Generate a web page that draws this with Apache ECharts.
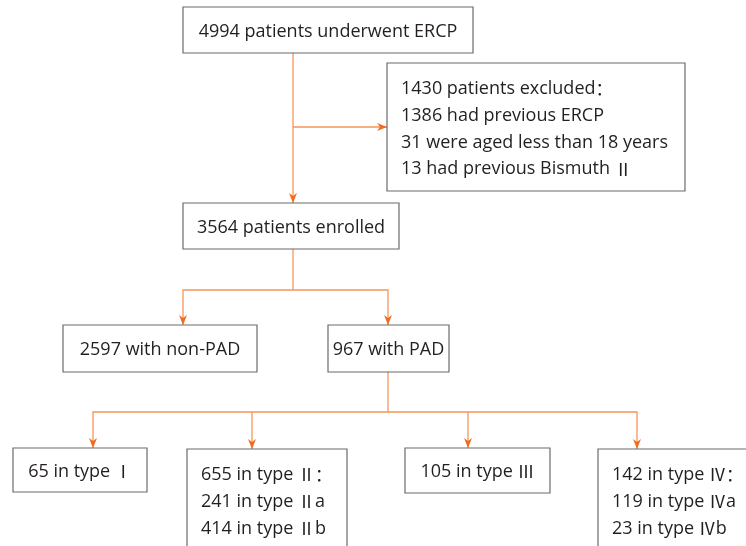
<!DOCTYPE html>
<html>
<head>
<meta charset="utf-8">
<script src="https://cdn.jsdelivr.net/npm/echarts@6/dist/echarts.min.js"></script>
<style>
  html, body { margin: 0; padding: 0; background: #fff; }
  #chart { width: 746px; height: 546px; }
</style>
</head>
<body>
<div id="chart"></div>
<script>
// box texts (one array of lines per box)
const boxText = [
  ['4994 patients underwent ERCP'],
  ['1430 patients excluded：', '1386 had previous ERCP', '31 were aged less than 18 years', '13 had previous Bismuth Ⅱ'],
  ['3564 patients enrolled'],
  ['2597 with non-PAD'],
  ['967 with PAD'],
  ['65 in type Ⅰ'],
  ['655 in type Ⅱ：', '241 in type Ⅱa', '414 in type Ⅱb'],
  ['105 in type Ⅲ'],
  ['142 in type Ⅳ：', '119 in type Ⅳa', '23 in type Ⅳb']
]

// layout: [x0, y0, x1, y1] per box, in page pixels
const boxLayout = [
  [183, 7, 473, 53],
  [387, 63, 685, 191],
  [183, 203, 399, 249],
  [63, 325, 257, 372],
  [328, 325, 449, 372],
  [13, 448, 147, 492],
  [187, 449, 347, 560],
  [405, 448, 550, 493],
  [598, 449, 760, 560]
]

// connectors: points, arrowhead at the end (and at the start when both)
const edgeLayout = [
  { pts: [[293, 53], [293, 203]], arrow: true },
  { pts: [[293, 127], [387, 127]], arrow: true },
  { pts: [[293, 249], [293, 290]], arrow: false },
  { pts: [[183, 325], [183, 290], [388, 290], [388, 325]], arrow: true, both: true },
  { pts: [[388, 372], [388, 412]], arrow: false },
  { pts: [[93, 448], [93, 412], [637, 412], [637, 449]], arrow: true, both: true },
  { pts: [[252, 412], [252, 449]], arrow: true },
  { pts: [[468, 412], [468, 448]], arrow: true }
]

const FONT_SIZE = 18
const FONT_FAMILY = '"Open Sans", "Noto Sans CJK SC", sans-serif'
const CJK_FAMILY = '"Noto Sans CJK SC", sans-serif'
const LINE_H = 26.7
const TEXT_COLOR = '#231f20'
const LINE_COLOR = '#f7955a'
const ARROW_COLOR = '#f26b1d'

// wrap roman numerals and full-width colons so they use the CJK font
function richLine (s) {
  return s.replace(/([\u2160-\u216f\uff1a]+)/g, '{r|$1}')
}

function arrowHead (tip, from) {
  const dx = tip[0] - from[0]
  const dy = tip[1] - from[1]
  const len = Math.sqrt(dx * dx + dy * dy) || 1
  const ux = dx / len
  const uy = dy / len
  const px = -uy
  const py = ux
  const L = 10
  const W = 4
  const N = 7
  return {
    type: 'polygon',
    shape: {
      points: [
        tip,
        [tip[0] - ux * L + px * W, tip[1] - uy * L + py * W],
        [tip[0] - ux * N, tip[1] - uy * N],
        [tip[0] - ux * L - px * W, tip[1] - uy * L - py * W]
      ]
    },
    style: { fill: ARROW_COLOR }
  }
}

const chart = echarts.init(document.getElementById('chart'), null, { renderer: 'canvas' })

const option = {
  animation: false,
  grid: { left: 0, right: 0, top: 0, bottom: 0 },
  xAxis: { type: 'value', min: 0, max: 746, show: false },
  yAxis: { type: 'value', min: 0, max: 546, inverse: true, show: false },
  series: [
    {
      type: 'custom',
      clip: false,
      data: edgeLayout.map((e, i) => [i]),
      renderItem: function (params, api) {
        const e = edgeLayout[params.dataIndex]
        const pts = e.pts.map(p => api.coord(p))
        const children = [{
          type: 'polyline',
          shape: { points: pts },
          style: { stroke: LINE_COLOR, lineWidth: 1.3, fill: null }
        }]
        if (e.arrow) {
          const n = pts.length
          children.push(arrowHead(pts[n - 1], pts[n - 2]))
          if (e.both) children.push(arrowHead(pts[0], pts[1]))
        }
        return { type: 'group', children: children }
      }
    },
    {
      type: 'custom',
      clip: false,
      data: boxLayout.map((b, i) => [i]),
      renderItem: function (params, api) {
        const i = params.dataIndex
        const b = boxLayout[i]
        const p0 = api.coord([b[0], b[1]])
        const p1 = api.coord([b[2], b[3]])
        const lines = boxText[i]
        const single = lines.length === 1
        const children = [{
          type: 'rect',
          shape: { x: p0[0], y: p0[1], width: p1[0] - p0[0], height: p1[1] - p0[1] },
          style: { fill: '#fff', stroke: '#6b6b6b', lineWidth: 1.2 }
        }]
        children.push({
          type: 'text',
          style: {
            text: lines.map(richLine).join('\n'),
            x: single ? (p0[0] + p1[0]) / 2 : p0[0] + 14,
            y: single ? (p0[1] + p1[1]) / 2 + 1.5 : p0[1] + 26 - LINE_H / 2,
            align: single ? 'center' : 'left',
            verticalAlign: single ? 'middle' : 'top',
            fontSize: FONT_SIZE,
            fontFamily: FONT_FAMILY,
            lineHeight: LINE_H,
            fill: TEXT_COLOR,
            rich: {
              r: {
                fontSize: FONT_SIZE - 1,
                fontFamily: CJK_FAMILY,
                lineHeight: LINE_H,
                fill: TEXT_COLOR
              }
            }
          }
        })
        return { type: 'group', children: children }
      }
    }
  ]
}

chart.setOption(option)
</script>
</body>
</html>
